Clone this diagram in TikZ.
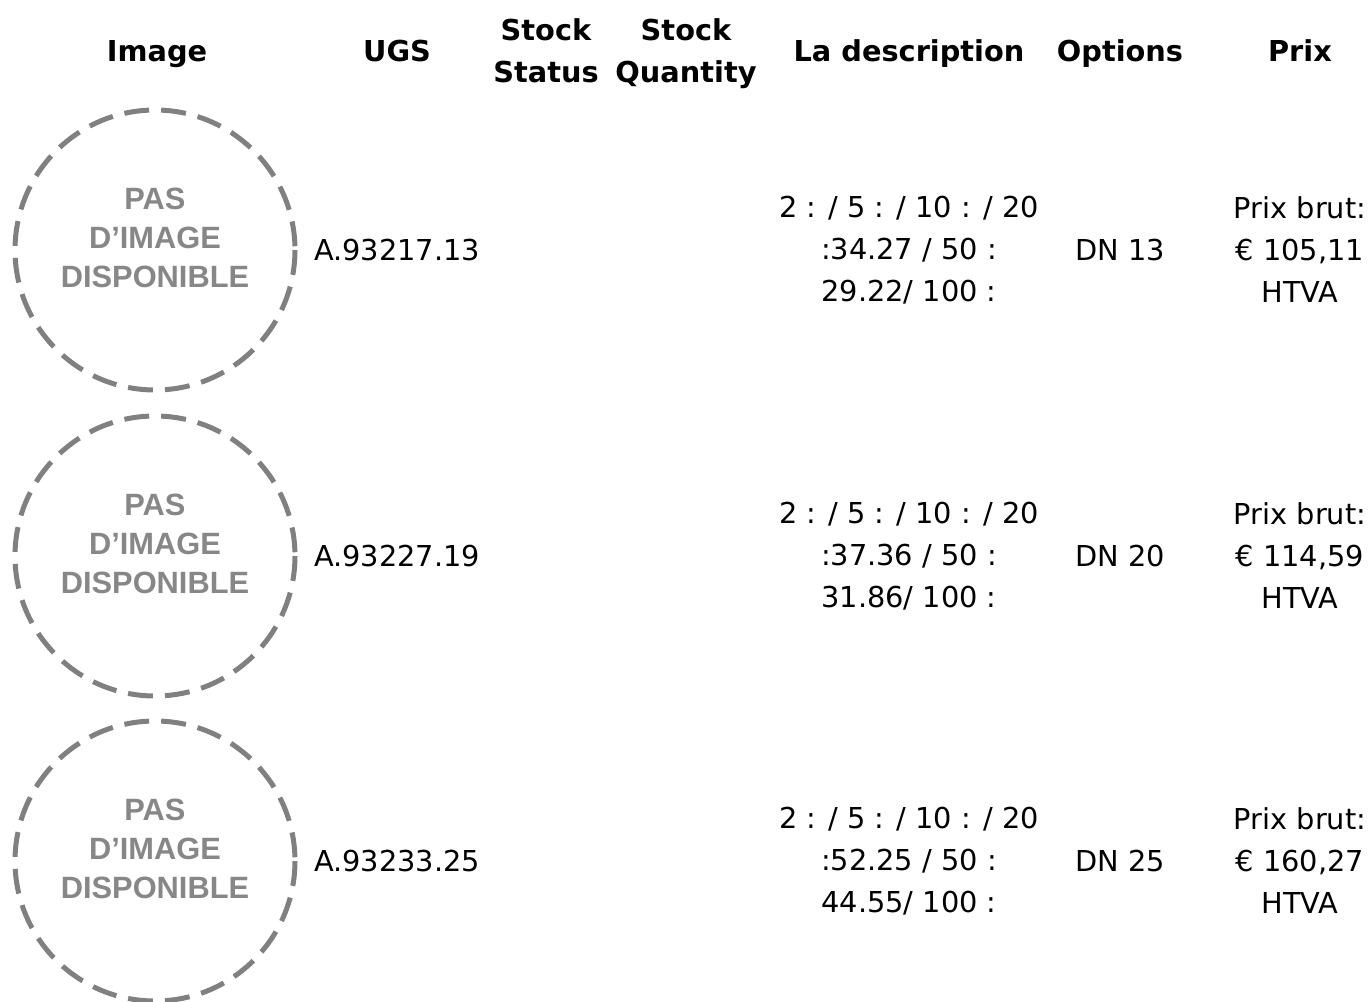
\documentclass[tikz,border=0pt]{standalone}
\usepackage{fontspec}
\setmainfont{DejaVu Sans}
\newfontfamily\placeholderfont{Liberation Sans}
\usetikzlibrary{positioning}
\tikzset{
  head/.style={font=\bfseries\fontsize{14.4}{21}\selectfont,align=center,inner sep=0pt,text depth=0pt},
  cell/.style={font=\fontsize{14.4}{21}\selectfont,align=center,inner sep=0pt},
  placeholder/.style={draw=black!50,line width=2.5pt,dash pattern=on 12.5pt off 6pt},
  placeholdertext/.style={font=\placeholderfont\bfseries\fontsize{15.4}{19.5}\selectfont,text=black!47,align=center,inner sep=0pt}
}
\begin{document}
\begin{tikzpicture}[x=0.5pt,y=-0.5pt]
  \useasboundingbox (0,0) rectangle (1370,1001);
  % header
  \node[head] (hImage) at (157,51) {Image};
  \node[head] (hUgs) at (397,51) {UGS};
  \node[head] (hStatus) at (546,51) {Stock\\Status};
  \node[head] (hQuantity) at (686,51) {Stock\\Quantity};
  \node[head] (hDesc) at (909,51) {La description};
  \node[head] (hOptions) at (1120,51) {Options};
  \node[head] (hPrix) at (1300,51) {Prix};
  % rows
  \foreach \n/\y/\sku/\pa/\pb/\dn/\prix in {
      1/250/A.93217.13/34.27/29.22/13/{105,11},
      2/556/A.93227.19/37.36/31.86/20/{114,59},
      3/861/A.93233.25/52.25/44.55/25/{160,27}}{
    \draw[placeholder] (155,\y) circle (140);
    \node[placeholdertext] (img\n) at (155,\y-12) {PAS\\D’IMAGE\\DISPONIBLE};
    \node[cell] (sku\n) at (397,\y) {\sku};
    \node[cell] (desc\n) at (909,\y) {2 : / 5 : / 10 : / 20\\:\pa{} / 50 :\\\pb/ 100 :};
    \node[cell] (opt\n) at (1120,\y) {DN \dn};
    \node[cell] (prix\n) at (1300,\y) {Prix brut:\\€ \prix\\HTVA};
  }
\end{tikzpicture}
\end{document}
